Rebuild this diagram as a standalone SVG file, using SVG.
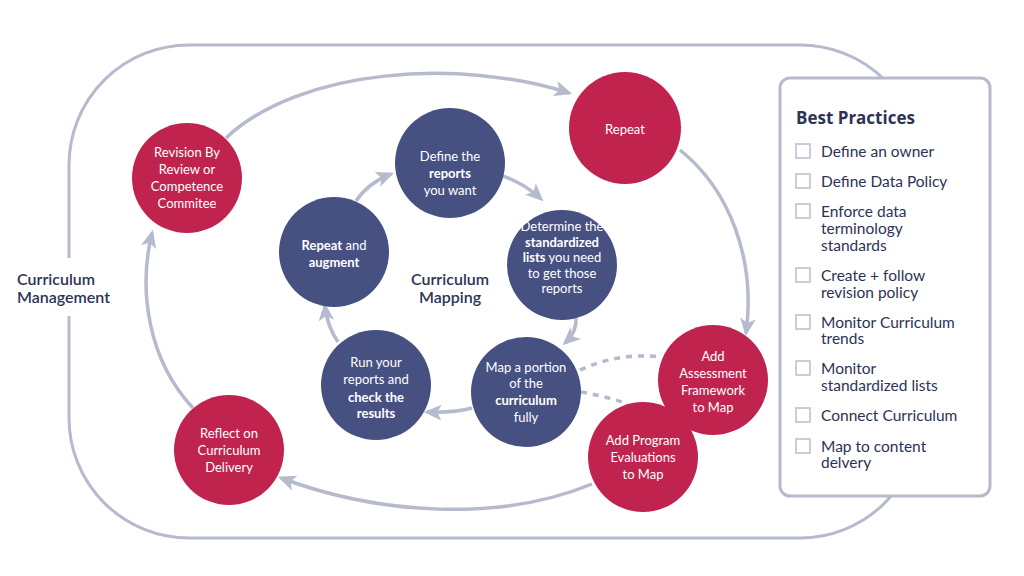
<svg xmlns="http://www.w3.org/2000/svg" width="1024" height="576" viewBox="0 0 1024 576">
<defs>
<style>
.red{fill:#c1234f}
.blue{fill:#475181}
.ct{font-family:Lato,"Liberation Sans",sans-serif;font-size:13px;fill:#ffffff;text-anchor:middle}
.ct .b{font-weight:bold}
.lbl{font-family:Lato,"Liberation Sans",sans-serif;font-size:16px;fill:#2d3355;font-weight:600}
.bp{font-family:Lato,"Liberation Sans",sans-serif;font-size:15.5px;fill:#2d3355}
.bph{font-family:"Open Sans","Liberation Sans",sans-serif;font-size:17px;fill:#2d3355;font-weight:700}
.box{fill:#ffffff;stroke:#b9bece;stroke-width:1.5}
.arr{fill:none;stroke:#b5bacd;stroke-width:3.5;marker-end:url(#ah)}
.dash{fill:none;stroke:#b5bacd;stroke-width:3.5;stroke-dasharray:6 6}
.frame{fill:none;stroke:#b5bacd;stroke-width:3}
</style>
<marker id="ah" markerUnits="userSpaceOnUse" markerWidth="18" markerHeight="18" viewBox="0 0 16 16" refX="13" refY="8" orient="auto">
<path d="M0,1 L16,8 L0,15 L4,8 z" fill="#b5bacd"/>
</marker>
</defs>
<rect width="1024" height="576" fill="#ffffff"/>

<g id="frame">
<path class="frame" d="M69,258 L69,165 A120,120 0 0 1 189,45 L800,45 A120,120 0 0 1 920,165 L920,418 A120,120 0 0 1 800,538 L189,538 A120,120 0 0 1 69,418 L69,316"/>
<g id="frame-label">
<text class="lbl" x="17" y="285">Curriculum</text>
<text class="lbl" x="17" y="303">Management</text>
</g>
</g>

<g id="connectors">
<path class="arr" d="M356,201 Q368,183 391,174"/>
<path class="arr" d="M503,176 Q525,184 541,199"/>
<path class="arr" d="M576,318 Q577,332 565,343"/>
<path class="arr" d="M472,408 Q455,413 427,412"/>
<path class="arr" d="M338,342 Q327,326 325,306"/>
<path class="arr" d="M226,138 C300,68 460,58 569,93"/>
<path class="arr" d="M680,150 C730,190 756,260 746,333"/>
<path class="arr" d="M592,484 C500,522 380,515 281,478"/>
<path class="arr" d="M193,408 C148,360 138,290 152,233"/>
<path class="dash" d="M580,370 Q620,352 660,357"/>
<path class="dash" d="M581,392 Q605,396 628,404"/>
</g>

<g id="n-revision">
<circle class="red" cx="187" cy="178" r="55"/>
<text class="ct" x="187" y="157">Revision By</text>
<text class="ct" x="187" y="174">Review or</text>
<text class="ct" x="187" y="191">Competence</text>
<text class="ct" x="187" y="208">Commitee</text>
</g>
<g id="n-repeat">
<circle class="red" cx="625" cy="128" r="56"/>
<text class="ct" x="625" y="134">Repeat</text>
</g>
<g id="n-reflect">
<circle class="red" cx="229" cy="450" r="55"/>
<text class="ct" x="229" y="438">Reflect on</text>
<text class="ct" x="229" y="455">Curriculum</text>
<text class="ct" x="229" y="472">Delivery</text>
</g>

<g id="n-define">
<circle class="blue" cx="450" cy="163" r="55"/>
<text class="ct" x="450" y="161">Define the</text>
<text class="ct" x="450" y="178"><tspan class="b">reports</tspan></text>
<text class="ct" x="450" y="195">you want</text>
</g>
<g id="n-determine">
<circle class="blue" cx="562" cy="265" r="55"/>
<text class="ct" x="562" y="231" font-size="12">Determine the</text>
<text class="ct" x="562" y="247" font-size="12"><tspan class="b">standardized</tspan></text>
<text class="ct" x="562" y="262" font-size="12"><tspan class="b">lists</tspan> you need</text>
<text class="ct" x="562" y="278" font-size="12">to get those</text>
<text class="ct" x="562" y="293" font-size="12">reports</text>
</g>
<g id="n-map">
<circle class="blue" cx="526" cy="392" r="55"/>
<text class="ct" x="526" y="372">Map a portion</text>
<text class="ct" x="526" y="388">of the</text>
<text class="ct" x="526" y="405"><tspan class="b">curriculum</tspan></text>
<text class="ct" x="526" y="422">fully</text>
</g>
<g id="n-run">
<circle class="blue" cx="376" cy="385" r="55"/>
<text class="ct" x="376" y="367">Run your</text>
<text class="ct" x="376" y="384">reports and</text>
<text class="ct" x="376" y="402"><tspan class="b">check the</tspan></text>
<text class="ct" x="376" y="418"><tspan class="b">results</tspan></text>
</g>
<g id="n-augment">
<circle class="blue" cx="334" cy="252" r="55"/>
<text class="ct" x="334" y="250"><tspan class="b">Repeat</tspan> and</text>
<text class="ct" x="334" y="267"><tspan class="b">augment</tspan></text>
</g>

<g id="mapping-label">
<text class="lbl" x="450" y="285" text-anchor="middle">Curriculum</text>
<text class="lbl" x="450" y="303" text-anchor="middle">Mapping</text>
</g>

<g id="n-assessment">
<circle class="red" cx="713" cy="380" r="55"/>
<text class="ct" x="713" y="361">Add</text>
<text class="ct" x="713" y="378">Assessment</text>
<text class="ct" x="713" y="395">Framework</text>
<text class="ct" x="713" y="412">to Map</text>
</g>
<g id="n-program">
<circle class="red" cx="643" cy="457" r="55"/>
<text class="ct" x="643" y="445">Add Program</text>
<text class="ct" x="643" y="462">Evaluations</text>
<text class="ct" x="643" y="479">to Map</text>
</g>

<g id="best-practices">
<rect x="780" y="78" width="210" height="418" rx="10" fill="#ffffff" stroke="#b5bacd" stroke-width="3"/>
<text class="bph" x="796" y="124">Best Practices</text>
<rect class="box" x="796" y="144" width="14" height="14"/>
<text class="bp" x="821" y="157">Define an owner</text>
<rect class="box" x="796" y="174" width="14" height="14"/>
<text class="bp" x="821" y="187">Define Data Policy</text>
<rect class="box" x="796" y="204" width="14" height="14"/>
<text class="bp" x="821" y="217">Enforce data</text>
<text class="bp" x="821" y="234">terminology</text>
<text class="bp" x="821" y="251">standards</text>
<rect class="box" x="796" y="268" width="14" height="14"/>
<text class="bp" x="821" y="281">Create + follow</text>
<text class="bp" x="821" y="298">revision policy</text>
<rect class="box" x="796" y="315" width="14" height="14"/>
<text class="bp" x="821" y="328">Monitor Curriculum</text>
<text class="bp" x="821" y="344">trends</text>
<rect class="box" x="796" y="361" width="14" height="14"/>
<text class="bp" x="821" y="374">Monitor</text>
<text class="bp" x="821" y="391">standardized lists</text>
<rect class="box" x="796" y="408" width="14" height="14"/>
<text class="bp" x="821" y="421">Connect Curriculum</text>
<rect class="box" x="796" y="439" width="14" height="14"/>
<text class="bp" x="821" y="452">Map to content</text>
<text class="bp" x="821" y="468">delvery</text>
</g>
</svg>
